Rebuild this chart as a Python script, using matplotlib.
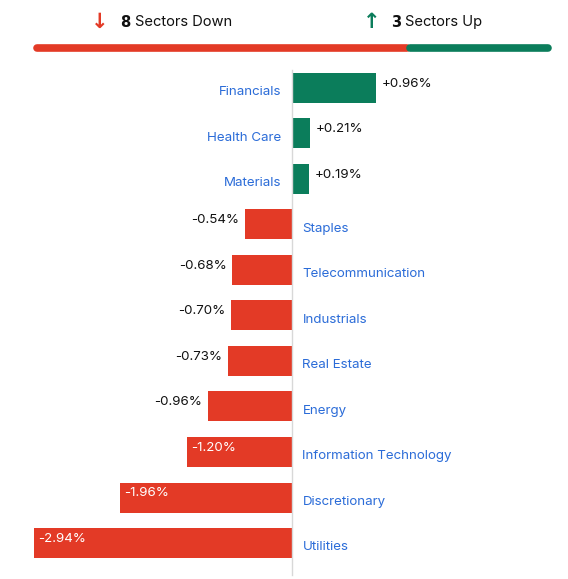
import matplotlib.pyplot as plt
from matplotlib.lines import Line2D

sectors = ['Financials', 'Health Care', 'Materials', 'Staples', 'Telecommunication',
           'Industrials', 'Real Estate', 'Energy', 'Information Technology',
           'Discretionary', 'Utilities']
changes = [0.96, 0.21, 0.19, -0.54, -0.68, -0.70, -0.73, -0.96, -1.20, -1.96, -2.94]

GREEN = '#0b7d5b'
RED = '#e33a26'
BLUE = '#2b6cd8'
W, H = 568, 579
plt.rcParams['font.family'] = ['Inter', 'DejaVu Sans']

fig = plt.figure(figsize=(W / 100, H / 100), dpi=100)
ax = fig.add_axes([0, 0, 1, 1])
pxx = 87.8   # px per percent
pxy = 45.5   # px per row
ax.set_xlim(-292 / pxx, (W - 292) / pxx)
ax.set_ylim((H - 88) / pxy, -88 / pxy)
ax.axis('off')

ax.plot([0, 0], [(70 - 88) / pxy, (575 - 88) / pxy], color='#d8d8d8', lw=1)

fs = 9.6
for i, (name, v) in enumerate(zip(sectors, changes)):
    col = GREEN if v > 0 else RED
    ax.barh(i, v, height=30 / pxy, color=col)
    txt = ('+' if v > 0 else '') + f'{v:.2f}%'
    if v > 0:
        ax.annotate(name, (0, i), xytext=(-7.5, -3), textcoords='offset points',
                    ha='right', va='center', color=BLUE, fontsize=fs)
        ax.annotate(txt, (v, i), xytext=(4, 3), textcoords='offset points',
                    ha='left', va='center', color='#111111', fontsize=fs)
    else:
        ax.annotate(name, (0, i), xytext=(7.5, -3), textcoords='offset points',
                    ha='left', va='center', color=BLUE, fontsize=fs)
        if v <= -1.0:
            ax.annotate(txt, (v, i), xytext=(3, 3), textcoords='offset points',
                        ha='left', va='center', color='white', fontsize=fs)
        else:
            ax.annotate(txt, (v, i), xytext=(-4, 3), textcoords='offset points',
                        ha='right', va='center', color='#111111', fontsize=fs)

# header
n_down = sum(1 for v in changes if v < 0)
n_up = sum(1 for v in changes if v > 0)
x0, x1, gap = 37, 548, 3
split = x0 + (x1 - x0) * n_down / (n_down + n_up)
yb = 1 - 48 / H
fig.add_artist(Line2D([x0 / W, (split - gap / 2) / W], [yb, yb], color=RED, lw=5.5,
                      solid_capstyle='round'))
fig.add_artist(Line2D([(split + gap / 2) / W, x1 / W], [yb, yb], color=GREEN, lw=5.5,
                      solid_capstyle='round'))
yt = 1 - 22 / H
fig.text(100 / W, yt, '\u2193', color=RED, fontsize=15, fontweight='bold',
         ha='center', va='center', family='DejaVu Sans')
fig.text(120 / W, yt, f'$\\bf{{{n_down}}}$', fontsize=fs + 1, va='center', color='#111111')
fig.text(135 / W, yt, 'Sectors Down', fontsize=fs + 1, va='center', color='#111111')
fig.text(372 / W, yt, '\u2191', color=GREEN, fontsize=15, fontweight='bold',
         ha='center', va='center', family='DejaVu Sans')
fig.text(391 / W, yt, f'$\\bf{{{n_up}}}$', fontsize=fs + 1, va='center', color='#111111')
fig.text(405 / W, yt, 'Sectors Up', fontsize=fs + 1, va='center', color='#111111')

fig.savefig('out.png', dpi=100)
